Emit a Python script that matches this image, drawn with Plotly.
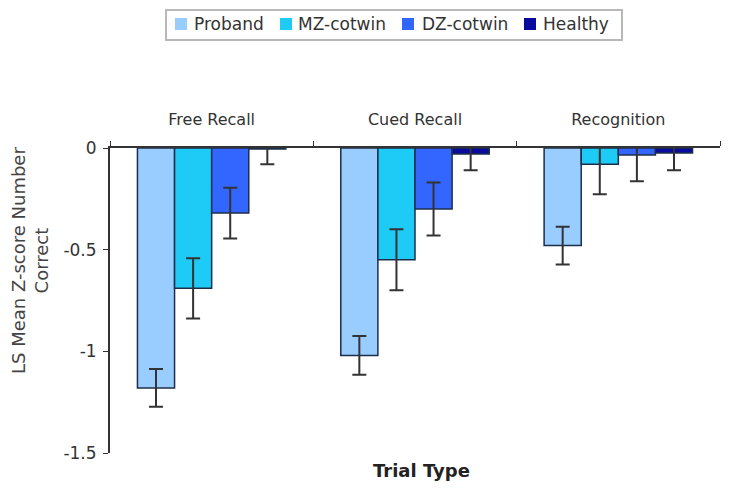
import plotly.graph_objects as go

categories = ["Free Recall", "Cued Recall", "Recognition"]
series_names = ["Proband", "MZ-cotwin", "DZ-cotwin", "Healthy"]
proband = [-1.18, -1.02, -0.48]
mz_cotwin = [-0.69, -0.55, -0.08]
dz_cotwin = [-0.32, -0.30, -0.035]
healthy = [-0.005, -0.03, -0.025]
proband_err = [0.093, 0.095, 0.093]
mz_err = [0.148, 0.15, 0.148]
dz_err = [0.125, 0.13, 0.128]
healthy_err = [0.075, 0.08, 0.085]
y_ticks = [0, -0.5, -1, -1.5]
y_tick_labels = ["0", "-0.5", "-1", "-1.5"]

colors = ["#99ccff", "#1ecbf7", "#3366ff", "#0a0a9e"]
values = [proband, mz_cotwin, dz_cotwin, healthy]
errors = [proband_err, mz_err, dz_err, healthy_err]

# the page body adds an 8px offset; size the figure so it fills the window
OFF = 8
W, H = 730 - OFF, 490 - OFF
ML, MR, MT, MB = 102, 10, 140, 37
PW, PH = W - ML - MR, H - MT - MB


def px(x):
    return (x - OFF - ML) / PW


def py(y):
    return (H - MB - (y - OFF)) / PH


FONT = "DejaVu Sans, Verdana, sans-serif"

fig = go.Figure()
for name, vals, errs, col in zip(series_names, values, errors, colors):
    fig.add_trace(go.Bar(
        x=categories, y=vals, name=name, showlegend=False,
        marker=dict(color=col, line=dict(color="#1c2f4a", width=1.5)),
        error_y=dict(type="data", array=errs, visible=True, color="#333333",
                     thickness=2, width=7),
    ))

# legend (drawn manually to match the compact original layout)
shapes = [dict(type="rect", xref="paper", yref="paper",
               x0=px(166), x1=px(622), y0=py(40), y1=py(10),
               line=dict(color="#b8b8b8", width=2), fillcolor="white")]
annotations = []
swatch_left = [175, 280, 402, 524]
text_left = [192, 296, 420, 541]
for name, col, sx, tx in zip(series_names, colors, swatch_left, text_left):
    shapes.append(dict(type="rect", xref="paper", yref="paper",
                       x0=px(sx), x1=px(sx + 12), y0=py(30), y1=py(18),
                       line=dict(color=col, width=0), fillcolor=col))
    annotations.append(dict(text=name, xref="paper", yref="paper",
                            x=px(tx), y=py(24), xanchor="left", yanchor="middle",
                            showarrow=False,
                            font=dict(family=FONT, size=17, color="#333333")))

annotations.append(dict(text="<b>Trial Type</b>", xref="paper", yref="paper",
                        x=px(421), y=py(470), xanchor="center", yanchor="middle",
                        showarrow=False,
                        font=dict(family=FONT, size=18, color="#222222")))
annotations.append(dict(text="LS Mean Z-score Number<br>Correct", xref="paper",
                        yref="paper", x=px(30), y=py(261), xanchor="center",
                        yanchor="middle", textangle=-90, showarrow=False,
                        font=dict(family=FONT, size=18, color="#444444")))

fig.update_layout(
    width=W, height=H,
    barmode="group", bargap=0.27, bargroupgap=0,
    plot_bgcolor="white", paper_bgcolor="white",
    font=dict(family=FONT, size=14, color="#333333"),
    margin=dict(l=ML, r=MR, t=MT, b=MB, autoexpand=False),
    showlegend=False,
    xaxis=dict(side="top", showline=True, linecolor="#333333", linewidth=2,
               ticks="outside", tickson="boundaries", ticklen=5,
               tickcolor="#333333", tickfont=dict(size=16, color="#333333"),
               ticklabelstandoff=15, showgrid=False, zeroline=False),
    yaxis=dict(range=[-1.5, 0], tickvals=y_ticks, ticktext=y_tick_labels,
               showline=True, linecolor="#333333", linewidth=2,
               ticks="outside", ticklen=5, tickcolor="#333333",
               showgrid=False, zeroline=False, ticklabelstandoff=3,
               tickfont=dict(size=17, color="#333333")),
    shapes=shapes,
    annotations=annotations,
)

fig.write_html("out.html")
